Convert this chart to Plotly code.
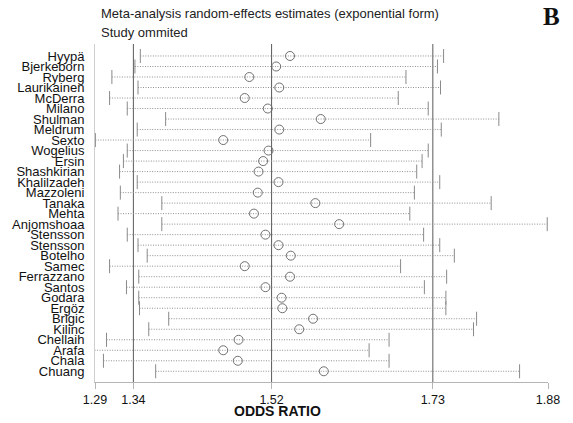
import plotly.graph_objects as go

studies = ["Hyypä", "Bjerkeborn", "Ryberg", "Laurikainen", "McDerra", "Milano", "Shulman",
           "Meldrum", "Sexto", "Wogelius", "Ersin", "Shashkirian", "Khalilzadeh", "Mazzoleni",
           "Tanaka", "Mehta", "Anjomshoaa", "Stensson", "Stensson", "Botelho", "Samec",
           "Ferrazzano", "Santos", "Godara", "Ergöz", "Brigic", "Kilinc", "Chellaih",
           "Arafa", "Chala", "Chuang"]

estimate = [1.544, 1.526, 1.491, 1.530, 1.485, 1.515, 1.584,
            1.530, 1.457, 1.516, 1.509, 1.503, 1.529, 1.502,
            1.577, 1.497, 1.608, 1.512, 1.529, 1.545, 1.485,
            1.544, 1.512, 1.533, 1.534, 1.574, 1.556, 1.477,
            1.457, 1.476, 1.588]

lower = [1.349, 1.342, 1.312, 1.346, 1.309, 1.332, 1.382,
         1.345, 1.2905, 1.332, 1.327, 1.322, 1.345, 1.323,
         1.377, 1.320, 1.377, 1.332, 1.346, 1.358, 1.309,
         1.347, 1.331, 1.347, 1.348, 1.386, 1.360, 1.305,
         1.2895, 1.301, 1.369]

upper = [1.744, 1.736, 1.695, 1.740, 1.685, 1.724, 1.816,
         1.741, 1.649, 1.724, 1.716, 1.709, 1.739, 1.706,
         1.806, 1.700, 1.879, 1.718, 1.739, 1.758, 1.688,
         1.748, 1.719, 1.747, 1.747, 1.787, 1.783, 1.673,
         1.647, 1.673, 1.843]

ref_lines = [1.34, 1.52, 1.73]
tick_vals = [1.29, 1.34, 1.52, 1.73, 1.88]
tick_text = ["1.29", "1.34", "1.52", "1.73", "1.88"]

rows = list(range(len(studies)))

seg_x, seg_y = [], []
for lo, hi, r in zip(lower, upper, rows):
    seg_x += [lo, hi, None]
    seg_y += [r, r, None]

fig = go.Figure()
fig.add_trace(go.Scatter(x=seg_x, y=seg_y, mode="lines",
                         line=dict(color="#8f8f8f", width=1, dash="1px,1.5px"),
                         hoverinfo="skip", showlegend=False, cliponaxis=False))
fig.add_trace(go.Scatter(x=lower + upper, y=rows + rows, mode="markers",
                         marker=dict(symbol="line-ns", size=10,
                                     line=dict(color="#8a8a8a", width=1)),
                         showlegend=False, cliponaxis=False))
fig.add_trace(go.Scatter(x=estimate, y=rows, mode="markers",
                         marker=dict(symbol="circle-open", size=9,
                                     color="#707070", line=dict(width=1)),
                         showlegend=False, cliponaxis=False))

for v in ref_lines:
    fig.add_shape(type="line", x0=v, x1=v, xref="x", y0=0, y1=1, yref="paper",
                  line=dict(color="#5a5a5a", width=1), layer="below")

L, T, B, R = 91, 44, 41, 25
W, H = 573, 423
pw, ph = W - L - R, H - T - B

def px_x(px):
    return (px - L) / pw

def px_y(py):
    return (H - B - py) / ph

fig.update_layout(
    width=W, height=H,
    margin=dict(l=L, r=R, t=T, b=B, pad=0),
    paper_bgcolor="white", plot_bgcolor="white",
    font=dict(family="Liberation Sans, Arial, sans-serif", color="#111"),
    xaxis=dict(range=[1.29, 1.88], tickvals=tick_vals, ticktext=tick_text,
               showgrid=False, zeroline=False, showline=True, linecolor="#b5b5b5",
               linewidth=1, ticks="outside", ticklen=6, tickcolor="#b5b5b5",
               tickfont=dict(size=12.5, color="#111")),
    yaxis=dict(range=[31.02, -1.14], tickvals=rows, ticktext=studies,
               showgrid=False, zeroline=False, showline=True, linecolor="#cfcfcf",
               linewidth=1, ticks="", ticklabelstandoff=7,
               tickfont=dict(size=13, color="#111")),
)

fig.add_annotation(text="Meta-analysis random-effects estimates (exponential form)",
                   xref="paper", yref="paper", x=px_x(95), y=px_y(14),
                   xanchor="left", yanchor="middle", showarrow=False,
                   font=dict(size=13, color="#222"))
fig.add_annotation(text="Study ommited",
                   xref="paper", yref="paper", x=px_x(95), y=px_y(32),
                   xanchor="left", yanchor="middle", showarrow=False,
                   font=dict(size=13, color="#222"))
fig.add_annotation(text="<b>B</b>",
                   xref="paper", yref="paper", x=px_x(552), y=px_y(16),
                   xanchor="center", yanchor="middle", showarrow=False,
                   font=dict(size=25, color="#111",
                             family="Liberation Serif, Times New Roman, serif"))
fig.add_annotation(text="<b>ODDS RATIO</b>",
                   xref="paper", yref="paper", x=px_x(275), y=px_y(411),
                   xanchor="center", yanchor="middle", showarrow=False,
                   font=dict(size=14, color="#111"))

fig.write_html("out.html", config={"displayModeBar": False},
               post_script="document.body.style.margin='0';")
